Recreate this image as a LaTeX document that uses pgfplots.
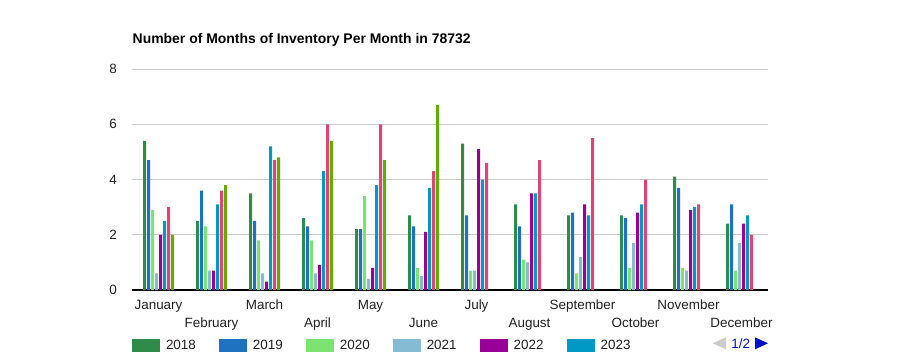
\documentclass[border=0pt]{standalone}
\usepackage{pgfplots}
\usepackage{pgfplotstable}
\pgfplotsset{compat=1.18}
\usepackage{fontspec}
\setmainfont{Liberation Sans}
\definecolor{c18}{HTML}{2E8B4A}
\definecolor{c19}{HTML}{1F72BF}
\definecolor{c20}{HTML}{7BE36F}
\definecolor{c21}{HTML}{86BBD4}
\definecolor{c22}{HTML}{990099}
\definecolor{c23}{HTML}{0099C6}
\definecolor{c24}{HTML}{DD4477}
\definecolor{c25}{HTML}{66AA00}
\definecolor{pagerblue}{HTML}{0011CC}
\pgfplotstableread{
x  a18 a19 a20 a21 a22 a23 a24 a25
0  5.4 4.7 2.9 0.6 2.0 2.5 3.0 2.0
1  2.5 3.6 2.3 0.7 0.7 3.1 3.6 3.8
2  3.5 2.5 1.8 0.6 0.3 5.2 4.7 4.8
3  2.6 2.3 1.8 0.6 0.9 4.3 6.0 5.4
4  2.2 2.2 3.4 0.4 0.8 3.8 6.0 4.7
5  2.7 2.3 0.8 0.5 2.1 3.7 4.3 6.7
6  5.3 2.7 0.7 0.7 5.1 4.0 4.6 nan
7  3.1 2.3 1.1 1.0 3.5 3.5 4.7 nan
8  2.7 2.8 0.6 1.2 3.1 2.7 5.5 nan
9  2.7 2.6 0.8 1.7 2.8 3.1 4.0 nan
10 4.1 3.7 0.8 0.7 2.9 3.0 3.1 nan
11 2.4 3.1 0.7 1.7 2.4 2.7 2.0 nan
}\datatable
\pgfplotsset{
  yr/.style={fill=#1,draw=none,
    legend image code/.code={\fill[#1] (0bp,-5.95bp) rectangle (28bp,7.05bp);}}
}
\begin{document}
\begin{tikzpicture}[x=1bp,y=1bp]
\path[use as bounding box] (0,0) rectangle (900,360);
\node[anchor=base west,inner sep=0pt,font=\bfseries\fontsize{14}{16}\selectfont] at (132.5,317.0) {Number of Months of Inventory Per Month in 78732};
\begin{axis}[
  at={(132bp,70bp)}, anchor=south west,
  scale only axis, width=636bp, height=221bp,
  ybar=1bp, bar width=3bp,
  xmin=-0.5, xmax=11.5, ymin=0, ymax=8,
  enlarge x limits=false,
  ytick={0,2,4,6,8},
  xtick={0,2,4,6,8,10},
  xticklabels={January,March,May,July,September,November},
  extra x ticks={1,3,5,7,9,11},
  extra x tick labels={February,April,June,August,October,December},
  extra x tick style={xticklabel style={yshift=-18bp}},
  major tick length=0pt,
  axis x line*=bottom, axis y line*=left,
  separate axis lines,
  x axis line style={black,line width=1.3bp,-},
  y axis line style={draw=none,-},
  ymajorgrids, grid style={draw=black!20,line width=1bp},
  /pgf/number format/assume math mode=true,
  tick label style={font=\fontsize{13.5}{15}\selectfont, text=black!87},
  xticklabel style={anchor=base, inner sep=0pt, yshift=-19.5bp},
  yticklabel style={anchor=east, inner sep=0pt, xshift=-15bp},
  legend columns=-1,
  legend style={at={(0,0)}, anchor=north west, yshift=-48.7bp, xshift=0bp,
    draw=none, fill=none, inner sep=0pt, outer sep=0pt,
    font=\fontsize{13.5}{15}\selectfont, text=black!87,
    nodes={inner sep=0pt},
    /tikz/every odd column/.append style={column sep=6bp},
    /tikz/every even column/.append style={column sep=23bp}},
  legend cell align=left,
]
\addplot[yr=c18] table[x=x,y=a18]{\datatable};
\addplot[yr=c19] table[x=x,y=a19]{\datatable};
\addplot[yr=c20] table[x=x,y=a20]{\datatable};
\addplot[yr=c21] table[x=x,y=a21]{\datatable};
\addplot[yr=c22] table[x=x,y=a22]{\datatable};
\addplot[yr=c23] table[x=x,y=a23]{\datatable};
\addplot[yr=c24] table[x=x,y=a24]{\datatable};
\addplot[yr=c25] table[x=x,y=a25]{\datatable};
\legend{2018,2019,2020,2021,2022,2023}
\end{axis}
\fill[black!20] (712.7,16.7) -- (726,22.7) -- (726,10.7) -- cycle;
\node[anchor=base west,inner sep=0pt,text=pagerblue,font=\fontsize{13.5}{15}\selectfont] at (731.2,12.0) {1/2};
\fill[pagerblue] (768,16.7) -- (755,22.7) -- (755,10.7) -- cycle;
\end{tikzpicture}
\end{document}
